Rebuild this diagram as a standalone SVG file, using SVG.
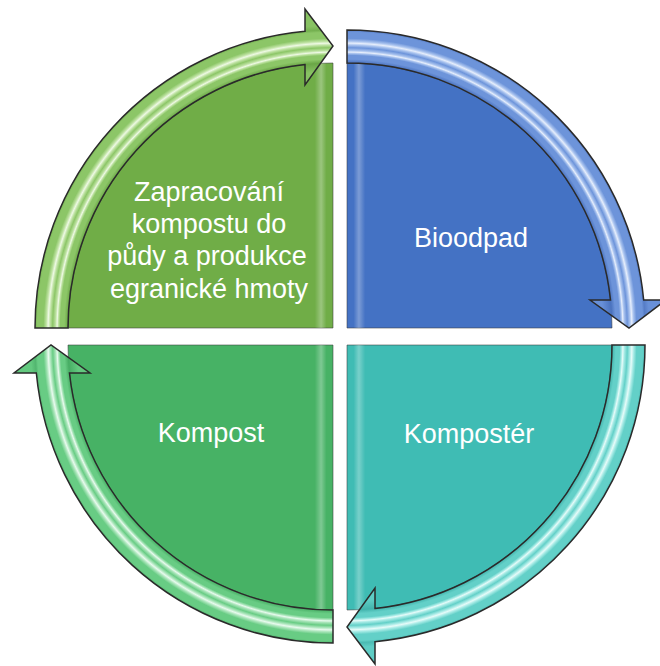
<svg xmlns="http://www.w3.org/2000/svg" width="660" height="666" viewBox="0 0 660 666">
<style>
.band{stroke:#2a2a2a;stroke-width:1.5;stroke-linejoin:miter}
.fill{stroke:#3a3a3a;stroke-width:1;stroke-opacity:0.55}
.lbl{font-family:"Liberation Sans",Arial,sans-serif;font-size:27px;fill:#ffffff;text-anchor:middle}
</style>
<defs>
<radialGradient id="gTL" gradientUnits="userSpaceOnUse" cx="333" cy="328" r="320">
<stop offset="0" stop-color="#88C263"/><stop offset="0.80" stop-color="#88C263"/>
<stop offset="0.828" stop-color="#6AA646"/><stop offset="0.84" stop-color="#8CC667"/>
<stop offset="0.852" stop-color="#8CC667"/><stop offset="0.858" stop-color="#BEE2A2"/>
<stop offset="0.862" stop-color="#EEF9E4"/><stop offset="0.867" stop-color="#BEE2A2"/>
<stop offset="0.876" stop-color="#8CC667"/><stop offset="0.884" stop-color="#BEE2A2"/>
<stop offset="0.89" stop-color="#EEF9E4"/><stop offset="0.896" stop-color="#BEE2A2"/>
<stop offset="0.905" stop-color="#8CC667"/><stop offset="0.924" stop-color="#8CC667"/>
<stop offset="0.931" stop-color="#74B050"/><stop offset="0.945" stop-color="#88C263"/>
<stop offset="1" stop-color="#88C263"/>
</radialGradient>
<radialGradient id="gTR" gradientUnits="userSpaceOnUse" cx="347" cy="328" r="320">
<stop offset="0" stop-color="#6890D8"/><stop offset="0.80" stop-color="#6890D8"/>
<stop offset="0.828" stop-color="#4A72BE"/><stop offset="0.84" stop-color="#6D94DA"/>
<stop offset="0.852" stop-color="#6D94DA"/><stop offset="0.858" stop-color="#A8C2EE"/>
<stop offset="0.862" stop-color="#E6EEFC"/><stop offset="0.867" stop-color="#A8C2EE"/>
<stop offset="0.876" stop-color="#6D94DA"/><stop offset="0.884" stop-color="#A8C2EE"/>
<stop offset="0.89" stop-color="#E6EEFC"/><stop offset="0.896" stop-color="#A8C2EE"/>
<stop offset="0.905" stop-color="#6D94DA"/><stop offset="0.924" stop-color="#6D94DA"/>
<stop offset="0.931" stop-color="#557CC6"/><stop offset="0.945" stop-color="#6890D8"/>
<stop offset="1" stop-color="#6890D8"/>
</radialGradient>
<radialGradient id="gBR" gradientUnits="userSpaceOnUse" cx="347" cy="345" r="320">
<stop offset="0" stop-color="#5ECDC5"/><stop offset="0.80" stop-color="#5ECDC5"/>
<stop offset="0.828" stop-color="#42B3AC"/><stop offset="0.84" stop-color="#63D0C8"/>
<stop offset="0.852" stop-color="#63D0C8"/><stop offset="0.858" stop-color="#A8EBE6"/>
<stop offset="0.862" stop-color="#E6FBF9"/><stop offset="0.867" stop-color="#A8EBE6"/>
<stop offset="0.876" stop-color="#63D0C8"/><stop offset="0.884" stop-color="#A8EBE6"/>
<stop offset="0.89" stop-color="#E6FBF9"/><stop offset="0.896" stop-color="#A8EBE6"/>
<stop offset="0.905" stop-color="#63D0C8"/><stop offset="0.924" stop-color="#63D0C8"/>
<stop offset="0.931" stop-color="#4BBAB3"/><stop offset="0.945" stop-color="#5ECDC5"/>
<stop offset="1" stop-color="#5ECDC5"/>
</radialGradient>
<radialGradient id="gBL" gradientUnits="userSpaceOnUse" cx="333" cy="345" r="320">
<stop offset="0" stop-color="#63C97F"/><stop offset="0.80" stop-color="#63C97F"/>
<stop offset="0.828" stop-color="#47AD64"/><stop offset="0.84" stop-color="#68CC84"/>
<stop offset="0.852" stop-color="#68CC84"/><stop offset="0.858" stop-color="#ACE6BC"/>
<stop offset="0.862" stop-color="#E8FAEE"/><stop offset="0.867" stop-color="#ACE6BC"/>
<stop offset="0.876" stop-color="#68CC84"/><stop offset="0.884" stop-color="#ACE6BC"/>
<stop offset="0.89" stop-color="#E8FAEE"/><stop offset="0.896" stop-color="#ACE6BC"/>
<stop offset="0.905" stop-color="#68CC84"/><stop offset="0.924" stop-color="#68CC84"/>
<stop offset="0.931" stop-color="#52B66F"/><stop offset="0.945" stop-color="#63C97F"/>
<stop offset="1" stop-color="#63C97F"/>
</radialGradient>
<linearGradient id="hiL" gradientUnits="userSpaceOnUse" x1="333" y1="0" x2="300" y2="0">
<stop offset="0" stop-color="#fff" stop-opacity="0"/><stop offset="0.2" stop-color="#fff" stop-opacity="0"/>
<stop offset="0.36" stop-color="#fff" stop-opacity="0.3"/><stop offset="0.55" stop-color="#fff" stop-opacity="0"/>
<stop offset="1" stop-color="#fff" stop-opacity="0"/>
</linearGradient>
<linearGradient id="hiR" gradientUnits="userSpaceOnUse" x1="347" y1="0" x2="380" y2="0">
<stop offset="0" stop-color="#fff" stop-opacity="0"/><stop offset="0.2" stop-color="#fff" stop-opacity="0"/>
<stop offset="0.36" stop-color="#fff" stop-opacity="0.3"/><stop offset="0.55" stop-color="#fff" stop-opacity="0"/>
<stop offset="1" stop-color="#fff" stop-opacity="0"/>
</linearGradient>
</defs>
<rect width="660" height="666" fill="#ffffff"/>

<g id="node-zapracovani">
<path class="fill" d="M333,328 L68,328 A265,265 0 0 1 333,63 Z" fill="#70AD47"/>
<path d="M333,328 L68,328 A265,265 0 0 1 333,63 Z" fill="url(#hiL)"/>
<text class="lbl" x="209" y="201">Zapracování</text>
<text class="lbl" x="209" y="233">kompostu do</text>
<text class="lbl" x="207" y="265">půdy a produkce</text>
<text class="lbl" x="209" y="298">egranické hmoty</text>
</g>

<g id="node-bioodpad">
<path class="fill" d="M347,328 L347,63 A265,265 0 0 1 612,328 Z" fill="#4472C4"/>
<path d="M347,328 L347,63 A265,265 0 0 1 612,328 Z" fill="url(#hiR)"/>
<text class="lbl" x="471" y="247">Bioodpad</text>
</g>

<g id="node-komposter">
<path class="fill" d="M347,345 L612,345 A265,265 0 0 1 347,610 Z" fill="#3FBCB4"/>
<path d="M347,345 L612,345 A265,265 0 0 1 347,610 Z" fill="url(#hiR)"/>
<text class="lbl" x="469" y="443">Kompostér</text>
</g>

<g id="node-kompost">
<path class="fill" d="M333,345 L333,610 A265,265 0 0 1 68,345 Z" fill="#47B265"/>
<path d="M333,345 L333,610 A265,265 0 0 1 68,345 Z" fill="url(#hiL)"/>
<text class="lbl" x="211" y="442">Kompost</text>
</g>

<g id="connectors">
<path class="band" fill="url(#gTL)" d="M35,328 A298,298 0 0 1 305,31.32 L305,9 L333,46 L305,85 L305,64.48 A265,265 0 0 0 68,328 Z"/>
<path class="band" fill="url(#gTR)" d="M347,30 A298,298 0 0 1 643.68,300 L666,300 L629,328 L590,300 L610.52,300 A265,265 0 0 0 347,63 Z"/>
<path class="band" fill="url(#gBR)" d="M645,345 A298,298 0 0 1 375,641.68 L375,664 L347,627 L375,588 L375,608.52 A265,265 0 0 0 612,345 Z"/>
<path class="band" fill="url(#gBL)" d="M333,643 A298,298 0 0 1 36.32,373 L14,373 L51,345 L90,373 L69.48,373 A265,265 0 0 0 333,610 Z"/>
</g>
</svg>
